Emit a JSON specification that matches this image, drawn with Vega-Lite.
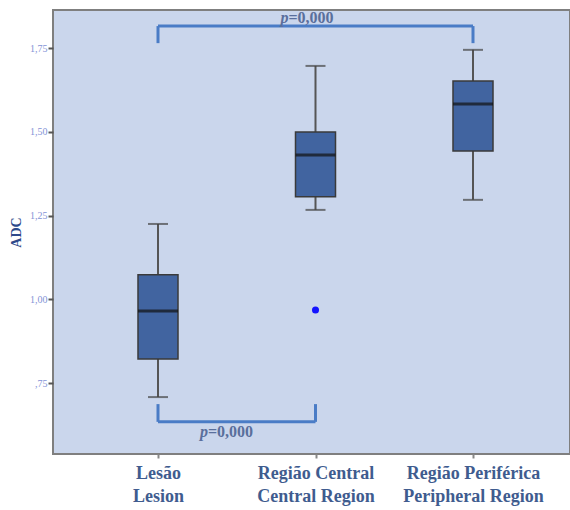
{
  "$schema": "https://vega.github.io/schema/vega-lite/v6.json",
  "width": 517,
  "height": 444,
  "autosize": "none",
  "padding": {"left": 53, "top": 10, "right": 0, "bottom": 56},
  "background": "white",
  "config": {
    "view": {"fill": "#cad6ec", "stroke": "#7f7f7f", "strokeWidth": 2}
  },
  "datasets": {
    "boxes": [
      {"cat": "Lesão", "lower": 0.708, "q1": 0.822, "median": 0.965, "q3": 1.073, "upper": 1.225},
      {"cat": "Região Central", "lower": 1.267, "q1": 1.306, "median": 1.431, "q3": 1.50, "upper": 1.697},
      {"cat": "Região Periférica", "lower": 1.297, "q1": 1.443, "median": 1.583, "q3": 1.652, "upper": 1.745}
    ],
    "outliers": [{"cat": "Região Central", "value": 0.968}],
    "brackets": [
      {"from": "Lesão", "to": "Região Periférica", "y": 1.816},
      {"from": "Lesão", "to": "Região Central", "y": 0.634}
    ],
    "legs": [
      {"cat": "Lesão", "y1": 1.765, "y2": 1.816},
      {"cat": "Região Periférica", "y1": 1.765, "y2": 1.816},
      {"cat": "Lesão", "y1": 0.634, "y2": 0.687},
      {"cat": "Região Central", "y1": 0.634, "y2": 0.687}
    ],
    "ptop": [{"cat": "Região Central", "y": 1.826, "p": "p", "rest": "=0,000"}],
    "pbottom": [{"cat": "Lesão", "y": 0.590, "p": "p", "rest": "=0,000"}]
  },
  "encoding": {
    "x": {
      "field": "cat",
      "type": "nominal",
      "sort": ["Lesão", "Região Central", "Região Periférica"],
      "scale": {"type": "point", "range": [105, 420], "padding": 0},
      "axis": {
        "title": null,
        "labelAngle": 0,
        "domain": false,
        "tickColor": "#888888",
        "tickSize": 4,
        "tickWidth": 2,
        "labelPadding": 6,
        "labelFont": "Liberation Serif",
        "labelFontWeight": "bold",
        "labelFontSize": 18,
        "labelLineHeight": 23,
        "labelColor": "#3f5c8f",
        "labelBaseline": "top",
        "labelExpr": "datum.value == 'Lesão' ? ['Lesão', 'Lesion'] : datum.value == 'Região Central' ? ['Região Central', 'Central Region'] : ['Região Periférica', 'Peripheral Region']"
      }
    }
  },
  "layer": [
    {
      "data": {"name": "boxes"},
      "mark": {"type": "rule", "color": "#555555", "strokeWidth": 2},
      "encoding": {
        "y": {
          "field": "lower",
          "type": "quantitative",
          "scale": {"domain": [0.538, 1.864], "nice": false, "zero": false},
          "axis": {
            "title": "ADC",
            "titleFont": "Liberation Serif",
            "titleFontWeight": "bold",
            "titleFontSize": 14,
            "titleColor": "#2e4a8a",
            "titleX": -30,
            "values": [0.75, 1.0, 1.25, 1.5, 1.75],
            "labelExpr": "datum.value < 1 ? replace(format(datum.value, '.2f'), '0.', ',') : replace(format(datum.value, '.2f'), '.', ',')",
            "labelFont": "Liberation Serif",
            "labelFontSize": 10,
            "labelColor": "#8393d6",
            "labelPadding": 1,
            "tickColor": "#555555",
            "tickSize": 5,
            "tickWidth": 2,
            "domain": false,
            "grid": false
          }
        },
        "y2": {"field": "upper"}
      }
    },
    {
      "data": {"name": "boxes"},
      "mark": {"type": "tick", "color": "#444444", "size": 20, "thickness": 2},
      "encoding": {"y": {"field": "lower", "type": "quantitative"}}
    },
    {
      "data": {"name": "boxes"},
      "mark": {"type": "tick", "color": "#444444", "size": 20, "thickness": 2},
      "encoding": {"y": {"field": "upper", "type": "quantitative"}}
    },
    {
      "data": {"name": "boxes"},
      "mark": {"type": "bar", "size": 40, "fill": "#4164a0", "stroke": "#3a3a3a", "strokeWidth": 1.5, "opacity": 1},
      "encoding": {
        "y": {"field": "q1", "type": "quantitative"},
        "y2": {"field": "q3"}
      }
    },
    {
      "data": {"name": "boxes"},
      "mark": {"type": "tick", "color": "#111111", "size": 40, "thickness": 3},
      "encoding": {"y": {"field": "median", "type": "quantitative"}}
    },
    {
      "data": {"name": "outliers"},
      "mark": {"type": "circle", "color": "#1414ff", "size": 50, "opacity": 1},
      "encoding": {"y": {"field": "value", "type": "quantitative"}}
    },
    {
      "data": {"name": "brackets"},
      "mark": {"type": "rule", "color": "#4a7cc6", "strokeWidth": 3},
      "encoding": {
        "x": {"field": "from", "type": "nominal"},
        "x2": {"field": "to"},
        "y": {"field": "y", "type": "quantitative"}
      }
    },
    {
      "data": {"name": "legs"},
      "mark": {"type": "rule", "color": "#4a7cc6", "strokeWidth": 3},
      "encoding": {
        "y": {"field": "y1", "type": "quantitative"},
        "y2": {"field": "y2"}
      }
    },
    {
      "data": {"name": "ptop"},
      "mark": {"type": "text", "font": "Liberation Serif", "fontWeight": "bold", "fontStyle": "italic", "fontSize": 16, "color": "#5a6f9c", "baseline": "alphabetic", "align": "right", "dx": -27},
      "encoding": {
        "y": {"field": "y", "type": "quantitative"},
        "text": {"field": "p"}
      }
    },
    {
      "data": {"name": "ptop"},
      "mark": {"type": "text", "font": "Liberation Serif", "fontWeight": "bold", "fontSize": 16, "color": "#5a6f9c", "baseline": "alphabetic", "align": "left", "dx": -27},
      "encoding": {
        "y": {"field": "y", "type": "quantitative"},
        "text": {"field": "rest"}
      }
    },
    {
      "data": {"name": "pbottom"},
      "mark": {"type": "text", "font": "Liberation Serif", "fontWeight": "bold", "fontStyle": "italic", "fontSize": 16, "color": "#5a6f9c", "baseline": "alphabetic", "align": "right", "dx": 50},
      "encoding": {
        "y": {"field": "y", "type": "quantitative"},
        "text": {"field": "p"}
      }
    },
    {
      "data": {"name": "pbottom"},
      "mark": {"type": "text", "font": "Liberation Serif", "fontWeight": "bold", "fontSize": 16, "color": "#5a6f9c", "baseline": "alphabetic", "align": "left", "dx": 50},
      "encoding": {
        "y": {"field": "y", "type": "quantitative"},
        "text": {"field": "rest"}
      }
    }
  ]
}
